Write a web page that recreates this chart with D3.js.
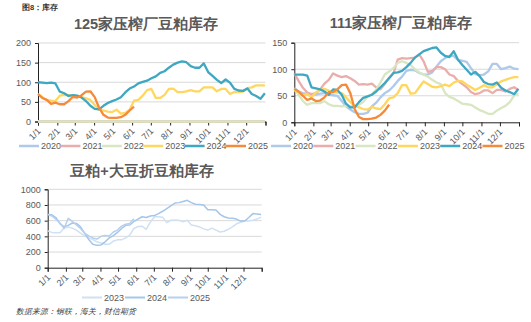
<!DOCTYPE html>
<html><head><meta charset="utf-8">
<script src="https://cdn.jsdelivr.net/npm/d3@7"></script>
<style>
body{margin:0;background:#fff;}
svg{display:block;}
text{font-family:"Liberation Sans",Arial,sans-serif;}
</style>
</head><body>
<svg id="c" width="531" height="322"></svg>
<script>
// ---------- DATA ----------
const monthLabels = ["1/1","2/1","3/1","4/1","5/1","6/1","7/1","8/1","9/1","10/1","11/1","12/1"];
const years6 = ["2020","2021","2022","2023","2024","2025"];
const years3 = ["2023","2024","2025"];
const title125 = "125家压榨厂豆粕库存";
const title111 = "111家压榨厂豆粕库存";
const titleTotal = "豆粕+大豆折豆粕库存";
const ticks125 = [0,50,100,150,200];
const ticks111 = [0,50,100,150];
const ticksTotal = [0,200,400,600,800,1000];

// 125家 (weekly)
const s125_2020 = [0,0,0,0,0,0,0,0,0,0,0,0,0,0,0,0,0,0,0,0,0,0,0,0,0,0,0,0,0,0,0,0,0,0,0,0,0,0,0,0,0,0,0,0,0,0,0,0,0,0,0,0,0];
const s125_2021 = [0,0,0,0,0,0,0,0,0,0,0,0,0,0,0,0,0,0,0,0,0,0,0,0,0,0,0,0,0,0,0,0,0,0,0,0,0,0,0,0,0,0,0,0,0,0,0,0,0,0,0,0,0];
const s125_2022 = [0,0,0,0,0,0,0,0,0,0,0,0,0,0,0,0,0,0,0,0,0,0,0,0,0,0,0,0,0,0,0,0,0,0,0,0,0,0,0,0,0,0,0,0,0,0,0,0,0,0,0,0,0];
const s125_2023 = [70,62,55,53,52,66,68,67,65,64,62,59,55,42,30,28,25,24,30,20,22,30,53,55,66,80,83,60,60,68,83,84,75,75,77,80,77,77,87,87,87,77,83,83,70,75,75,76,85,87,92,92,92];
const s125_2024 = [100,99,98,99,97,76,72,65,67,66,61,52,40,32,31,40,47,52,56,62,74,84,89,97,101,104,110,115,124,128,137,145,150,153,151,141,137,137,148,126,116,106,98,107,99,83,79,78,84,70,65,58,72];
const s125_2025 = [70,60,55,45,48,44,44,52,63,61,67,76,77,62,35,17,10,9,9,11,17,28,38];

// 111家 (weekly)
const s111_2020 = [65,58,55,53,52,52,54,55,52,51,50,40,30,24,19,16,16,18,30,37,47,55,60,68,78,86,97,99,98,93,90,90,94,105,115,121,125,125,117,116,114,102,91,89,90,96,110,110,100,102,105,101,100];
const s111_2021 = [92,78,65,56,53,55,62,73,80,92,88,85,87,83,78,71,72,71,73,66,62,72,84,92,118,121,120,121,122,128,115,95,97,104,104,100,90,87,78,72,66,57,53,55,60,60,55,61,61,58,63,66,61];
const s111_2022 = [63,52,40,33,36,36,36,40,34,31,31,30,31,30,31,33,38,48,53,62,75,90,96,102,112,115,112,108,100,94,90,86,80,75,72,55,48,45,40,35,34,33,28,23,20,16,16,22,27,31,38,50,55];
const s111_2023 = [61,56,50,53,47,56,61,63,60,57,56,55,47,38,31,28,25,24,29,26,25,34,45,47,55,70,70,54,55,66,77,72,67,66,68,71,68,75,78,77,71,66,61,65,70,66,66,72,77,80,83,85,85];
const s111_2024 = [90,90,90,88,66,64,62,58,52,62,61,52,35,28,28,38,46,49,52,58,66,74,83,93,94,97,104,112,122,128,134,137,140,141,131,125,123,134,118,108,99,90,95,87,76,72,71,75,65,60,57,53,63];
const s111_2025 = [63,58,50,42,45,40,41,47,57,57,62,70,71,55,25,10,6,6,7,9,14,22,33];

// 豆粕+大豆折豆粕 (weekly)
const sTot_2023 = [470,450,445,445,505,520,505,480,440,405,380,360,330,315,300,300,340,355,355,380,415,500,525,530,490,580,650,650,645,575,605,610,605,585,605,545,535,520,495,480,505,480,455,465,490,520,560,580,595,600,605,620,645];
const sTot_2024 = [680,675,640,560,525,540,570,565,520,440,360,300,285,290,330,380,410,450,500,540,545,590,620,650,640,660,665,690,720,755,790,825,830,845,860,830,810,805,800,740,740,735,680,650,635,630,620,595,595,640,690,685,680];
const sTot_2025 = [680,660,620,570,500,630,590,545,500,440,405,380,365,400,410,405,455,480,530,555,565,625];

const headerText = "图8：库存";
const sourceText = "数据来源：钢联，海关，财信期货";

// ---------- STYLE ----------
const colors6 = {"2020":"#aec9e9","2021":"#e9aeab","2022":"#d8e6c2","2023":"#ffd75e","2024":"#3ea7c2","2025":"#f58a3a"};
const colors3 = {"2023":"#cfe1f3","2024":"#a3c6ea","2025":"#b6d0ee"};
const textGray = "#595959";
const cjk = "'Noto Sans CJK SC','Noto Sans',sans-serif";

const svg = d3.select("#c");

const day0 = Date.UTC(2021,0,1);
const weekDate = i => new Date(day0 + i*7*86400000);
const yearEnd = new Date(Date.UTC(2022,0,1));

function drawChart(o){
  const x = d3.scaleUtc().domain([new Date(day0), yearEnd]).range([o.x0, o.x1]);
  const y = d3.scaleLinear().domain([0, o.yMax]).range([o.y0, o.y1]);
  const g = svg.append("g");
  // gridlines
  g.selectAll("line.grid").data(o.yTicks.filter(d=>d>0)).join("line")
    .attr("x1", o.x0).attr("x2", o.x1)
    .attr("y1", d=>y(d)).attr("y2", d=>y(d))
    .attr("stroke", "#d9d9d9").attr("stroke-width", 1);
  // y axis
  const ya = d3.axisLeft(y).tickValues(o.yTicks).tickFormat(d3.format("d")).tickSize(3).tickPadding(4);
  const yg = g.append("g").attr("transform", `translate(${o.x0},0)`).call(ya);
  yg.select(".domain").attr("stroke", "#222");
  yg.selectAll(".tick line").attr("stroke", "#222");
  yg.selectAll("text").attr("fill", textGray).attr("font-size", o.fs).attr("font-family","'Noto Sans',sans-serif");
  // x axis
  const mTicks = d3.utcMonth.range(new Date(day0), yearEnd).concat([yearEnd]);
  const xa = d3.axisBottom(x).tickValues(mTicks).tickSize(4).tickFormat(() => "");
  const xg = g.append("g").attr("transform", `translate(0,${o.y0})`).call(xa);
  xg.select(".domain").attr("stroke", "#222");
  xg.selectAll(".tick line").attr("stroke", "#222");
  // month labels rotated
  g.selectAll("text.mlab").data(monthLabels).join("text")
    .attr("class","mlab")
    .attr("transform", (d,i) => `translate(${x(mTicks[i]) + 1},${o.y0 + 8}) rotate(-45)`)
    .attr("text-anchor","end").attr("dy","0.35em")
    .attr("font-size", o.fs).attr("fill", textGray)
    .attr("font-family","'Noto Sans',sans-serif")
    .text(d=>d);
  // lines
  const line = d3.line().x((d,i)=>x(weekDate(i))).y(d=>y(d));
  o.series.forEach((s,k) => {
    g.append("path").datum(s).attr("d", line)
      .attr("fill","none").attr("stroke", o.colors[o.names[k]])
      .attr("stroke-width", o.lw).attr("stroke-linejoin","round");
  });
  // title
  g.append("text").attr("x", o.tx).attr("y", o.ty).attr("text-anchor","middle")
    .attr("font-family", cjk).attr("font-weight","bold").attr("font-size", 14.5)
    .attr("fill", textGray).text(o.title);
  // legend
  const lg = g.append("g");
  o.names.forEach((n,k) => {
    const lx = o.lgx + k*o.lgStep;
    lg.append("line").attr("x1", lx).attr("x2", lx + 20).attr("y1", o.lgy).attr("y2", o.lgy)
      .attr("stroke", o.colors[n]).attr("stroke-width", o.lgw);
    lg.append("text").attr("x", lx + 22).attr("y", o.lgy).attr("dy","0.35em")
      .attr("font-size", o.lfs).attr("fill", textGray)
      .attr("font-family","'Noto Sans',sans-serif").text(n);
  });
}

drawChart({x0:38, x1:265.5, y0:121.5, y1:43, yMax:200, yTicks:ticks125, fs:9,
  series:[s125_2020,s125_2021,s125_2022,s125_2023,s125_2024,s125_2025], names:years6, colors:colors6, lw:2.3,
  title:title125, tx:146, ty:29, lgx:19, lgy:146, lgStep:41.4, lgw:2.5, lfs:9});

drawChart({x0:294.3, x1:519, y0:122.3, y1:42.7, yMax:150, yTicks:ticks111, fs:9,
  series:[s111_2020,s111_2021,s111_2022,s111_2023,s111_2024,s111_2025], names:years6, colors:colors6, lw:2.3,
  title:title111, tx:401, ty:28, lgx:271, lgy:146, lgStep:42.3, lgw:2.5, lfs:9});

drawChart({x0:47.7, x1:261.7, y0:267.7, y1:189.3, yMax:1000, yTicks:ticksTotal, fs:9,
  series:[sTot_2023,sTot_2024,sTot_2025], names:years3, colors:colors3, lw:1.5,
  title:titleTotal, tx:142, ty:176, lgx:82, lgy:297.5, lgStep:43, lgw:2, lfs:9});

svg.append("text").attr("x",22).attr("y",10).attr("font-family",cjk).attr("font-weight","bold")
  .attr("font-size",7.5).attr("fill","#333").text(headerText);
svg.append("text").attr("x",16).attr("y",314).attr("font-family",cjk).attr("font-style","italic")
  .attr("font-size",7.8).attr("fill","#404040").text(sourceText);
</script>
</body></html>
